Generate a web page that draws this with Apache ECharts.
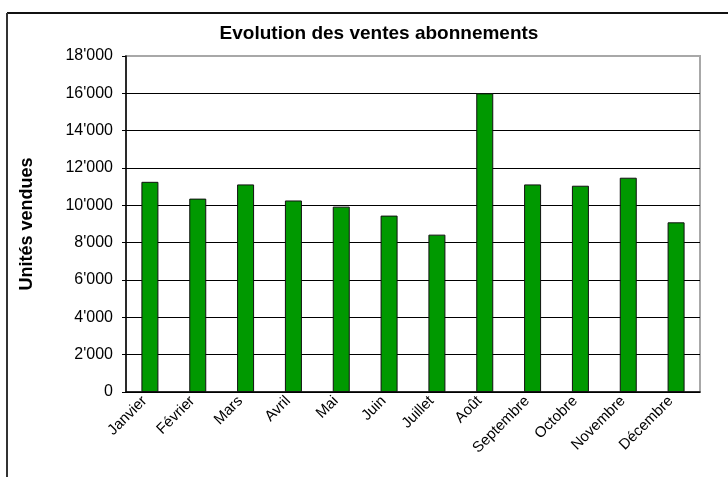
<!DOCTYPE html>
<html>
<head>
<meta charset="utf-8">
<script src="https://cdn.jsdelivr.net/npm/echarts@6/dist/echarts.min.js"></script>
<style>
html,body{margin:0;padding:0;background:#fff;}
#chart{width:728px;height:477px;}
</style>
</head>
<body>
<div id="chart"></div>
<script>
var categories = ['Janvier','Février','Mars','Avril','Mai','Juin','Juillet','Août','Septembre','Octobre','Novembre','Décembre'];
var ventes = [11260, 10360, 11120, 10260, 9930, 9450, 8430, 16000, 11120, 11050, 11480, 9090];
var titleText = 'Evolution des ventes abonnements';
var yName = 'Unités vendues';

function fmt(v){
  var s = String(Math.round(v));
  return s.replace(/\B(?=(\d{3})+(?!\d))/g, "'");
}

var FF = 'Liberation Sans, Arial, sans-serif';
var chart = echarts.init(document.getElementById('chart'), null, {renderer:'canvas'});
chart.setOption({
  animation:false,
  backgroundColor:'#fff',
  textStyle:{fontFamily:FF},
  title:{
    text:titleText, left:374, top:19, textAlign:'center',
    textStyle:{fontFamily:FF, fontSize:19, fontWeight:'bold', color:'#000'}
  },
  graphic:[
    {type:'line', shape:{x1:7,y1:13,x2:728,y2:13}, style:{stroke:'#111', lineWidth:2}, z:10},
    {type:'line', shape:{x1:7,y1:13,x2:7,y2:477}, style:{stroke:'#333', lineWidth:2}, z:10}
  ],
  grid:{left:126, right:28, top:56, bottom:85, show:true, borderColor:'#a8a8a8', borderWidth:2, containLabel:false},
  xAxis:{
    type:'category', data:categories,
    axisLine:{show:true, lineStyle:{color:'#000', width:1.5}},
    axisTick:{show:false},
    axisLabel:{rotate:45, fontSize:15, color:'#000', margin:12, interval:0, verticalAlign:'bottom', fontFamily:FF}
  },
  yAxis:{
    type:'value', min:0, max:18000, interval:2000,
    name:yName, nameLocation:'middle', nameGap:90, nameRotate:90,
    nameTextStyle:{fontSize:18, fontWeight:'bold', color:'#000', fontFamily:FF},
    axisLine:{show:true, lineStyle:{color:'#000', width:1.5}},
    axisTick:{show:true, inside:false, length:4, lineStyle:{color:'#000'}},
    axisLabel:{fontSize:16, color:'#000', margin:13, formatter:fmt, fontFamily:FF},
    splitLine:{show:true, lineStyle:{color:['#000','#000','#000','#000','#000','#000','#000','#000','#000','#a8a8a8'], width:1}}
  },
  series:[{
    type:'bar', data:ventes, barWidth:17,
    itemStyle:{color:'#009900', borderColor:'#111', borderWidth:1}
  }]
});
</script>
</body>
</html>
